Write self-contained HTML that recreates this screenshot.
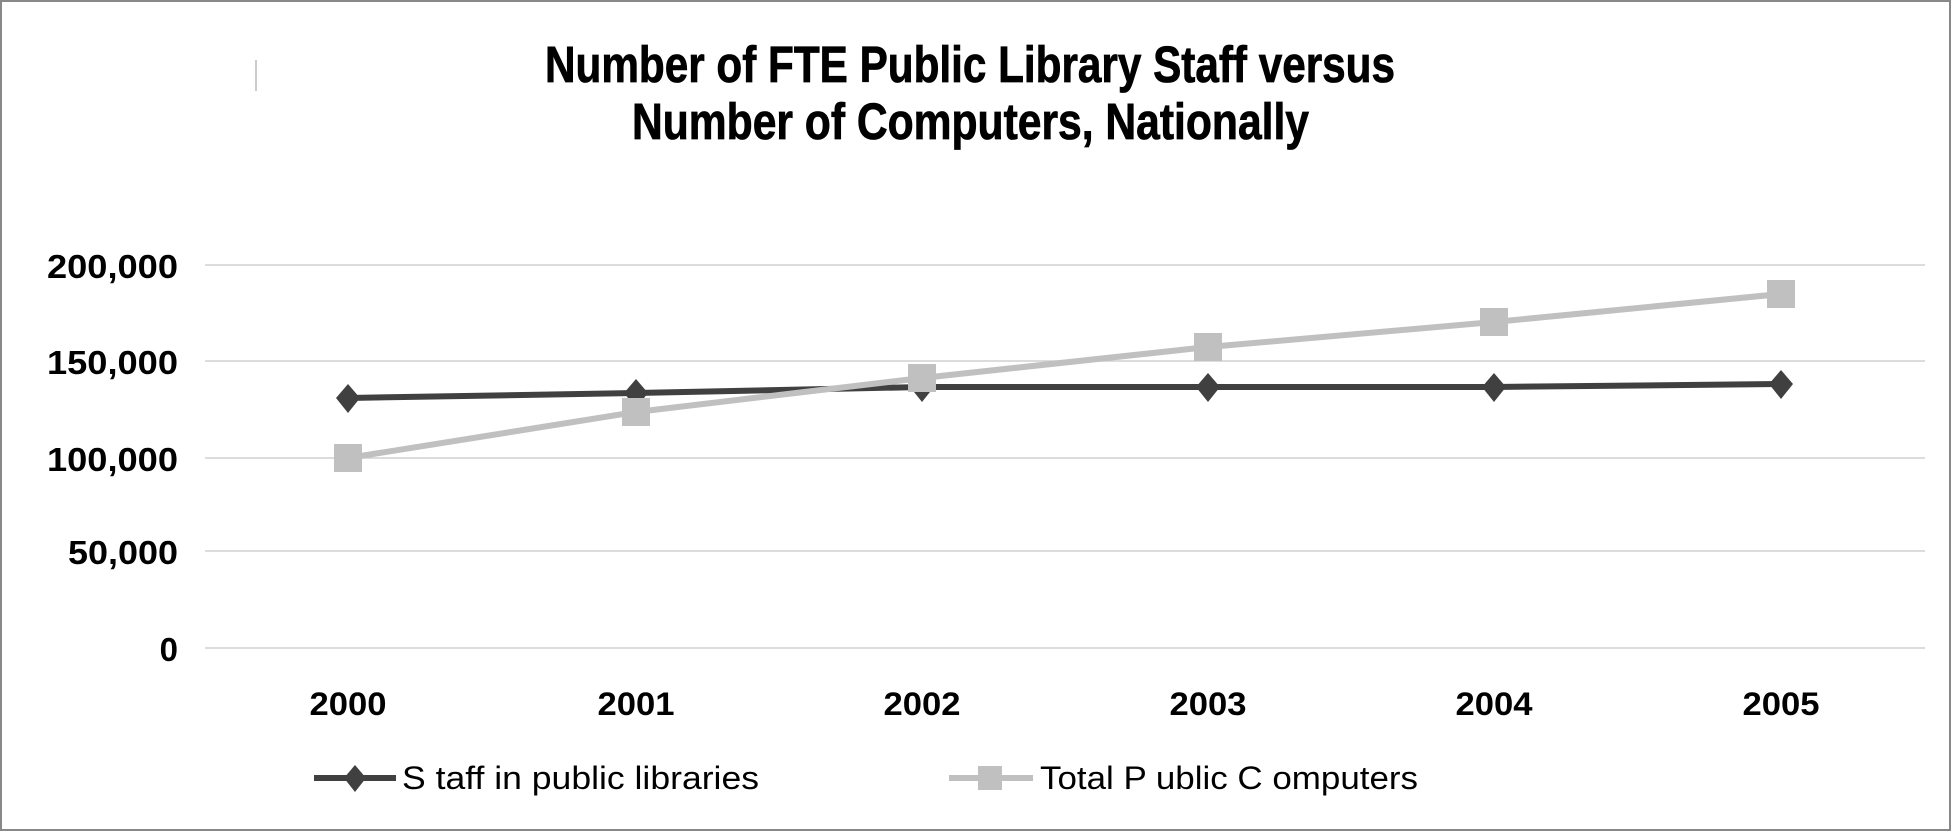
<!DOCTYPE html>
<html><head><meta charset="utf-8"><style>
html,body{margin:0;padding:0;background:#fff;}
svg{display:block;}
</style></head><body>
<svg width="1951" height="831" viewBox="0 0 1951 831" xmlns="http://www.w3.org/2000/svg">
<rect x="1" y="1" width="1949" height="829" fill="#fff" stroke="#888" stroke-width="2"/>
<line x1="256" y1="60" x2="256" y2="91" stroke="#bbb" stroke-width="1.5"/>
<g font-family="'Liberation Sans Narrow','Liberation Sans',sans-serif" font-weight="bold" font-size="51" fill="#000" stroke="#000" stroke-width="0.8">
<text x="545" y="82" textLength="850" lengthAdjust="spacingAndGlyphs">Number of FTE Public Library Staff versus</text>
<text x="632" y="139" textLength="677" lengthAdjust="spacingAndGlyphs">Number of Computers, Nationally</text>
</g>
<g stroke="#d0d0d0" stroke-width="1.5">
<line x1="205" y1="265" x2="1925" y2="265"/>
<line x1="205" y1="361" x2="1925" y2="361"/>
<line x1="205" y1="458" x2="1925" y2="458"/>
<line x1="205" y1="551" x2="1925" y2="551"/>
<line x1="205" y1="648" x2="1925" y2="648"/>
</g>
<g font-family="'Liberation Sans',sans-serif" font-weight="bold" font-size="33" fill="#000" text-anchor="end">
<text x="178" y="278" textLength="131" lengthAdjust="spacingAndGlyphs">200,000</text>
<text x="178" y="374" textLength="131" lengthAdjust="spacingAndGlyphs">150,000</text>
<text x="178" y="471" textLength="131" lengthAdjust="spacingAndGlyphs">100,000</text>
<text x="178" y="564" textLength="110" lengthAdjust="spacingAndGlyphs">50,000</text>
<text x="178" y="661">0</text>
</g>
<g font-family="'Liberation Sans',sans-serif" font-weight="bold" font-size="32" fill="#000" text-anchor="middle">
<text x="348" y="715" textLength="77" lengthAdjust="spacingAndGlyphs">2000</text>
<text x="636" y="715" textLength="77" lengthAdjust="spacingAndGlyphs">2001</text>
<text x="922" y="715" textLength="77" lengthAdjust="spacingAndGlyphs">2002</text>
<text x="1208" y="715" textLength="77" lengthAdjust="spacingAndGlyphs">2003</text>
<text x="1494" y="715" textLength="77" lengthAdjust="spacingAndGlyphs">2004</text>
<text x="1781" y="715" textLength="77" lengthAdjust="spacingAndGlyphs">2005</text>
</g>
<polyline points="348,398 636,393 922,387 1208,387 1494,387 1781,384" fill="none" stroke="#404040" stroke-width="6"/>
<g fill="#404040">
<polygon points="348,384 360,398 348,413 336,398"/>
<polygon points="636,379 648,393 636,408 624,393"/>
<polygon points="922,373 934,387 922,402 910,387"/>
<polygon points="1208,373 1220,387 1208,402 1196,387"/>
<polygon points="1494,373 1506,387 1494,402 1482,387"/>
<polygon points="1781,370 1793,384 1781,399 1769,384"/>
</g>
<polyline points="348,458 636,412 922,378 1208,347 1494,322 1781,294" fill="none" stroke="#c0c0c0" stroke-width="6"/>
<g fill="#c0c0c0">
<rect x="334" y="444" width="28" height="28"/>
<rect x="622" y="398" width="28" height="28"/>
<rect x="908" y="364" width="28" height="28"/>
<rect x="1194" y="333" width="28" height="28"/>
<rect x="1480" y="308" width="28" height="28"/>
<rect x="1767" y="280" width="28" height="28"/>
</g>
<line x1="314" y1="778" x2="396" y2="778" stroke="#404040" stroke-width="6"/>
<polygon points="355,765 366,778 355,792 344,778" fill="#404040"/>
<line x1="949" y1="778" x2="1033" y2="778" stroke="#c0c0c0" stroke-width="6"/>
<rect x="978" y="766" width="24" height="24" fill="#c0c0c0"/>
<g font-family="'Liberation Sans Narrow','Liberation Sans',sans-serif" font-size="32" fill="#000">
<text x="402" y="789" textLength="357" lengthAdjust="spacingAndGlyphs">S taff in public  libraries</text>
<text x="1040" y="789" textLength="378" lengthAdjust="spacingAndGlyphs">Total P ublic  C omputers</text>
</g>
</svg>
</body></html>
